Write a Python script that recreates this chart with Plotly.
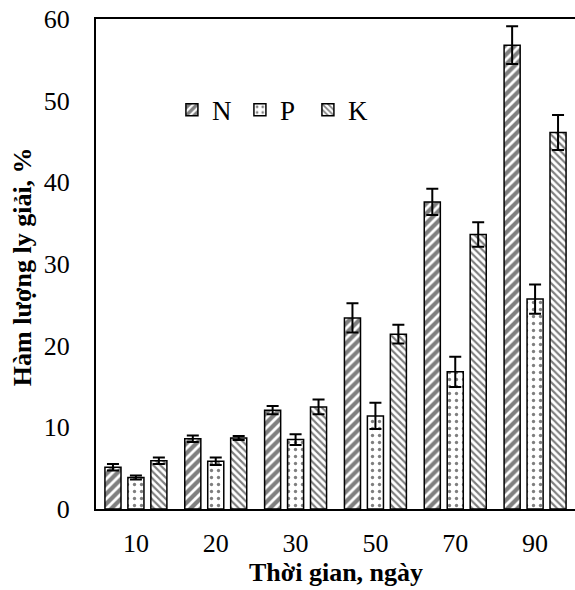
import plotly.graph_objects as go

categories = ["10", "20", "30", "50", "70", "90"]
n_values = [5.1, 8.6, 12.1, 23.4, 37.6, 56.8]
n_errors = [0.4, 0.4, 0.5, 1.8, 1.6, 2.3]
p_values = [3.85, 5.85, 8.5, 11.4, 16.8, 25.7]
p_errors = [0.25, 0.45, 0.65, 1.6, 1.85, 1.8]
k_values = [5.9, 8.7, 12.5, 21.4, 33.6, 46.1]
k_errors = [0.4, 0.25, 0.9, 1.15, 1.5, 2.15]
y_ticks = [0, 10, 20, 30, 40, 50, 60]
x_title = "Thời gian, ngày"
y_title = "Hàm lượng ly giải, %"

FONT = "Liberation Serif"

def bar(name, values, errors, shape, size, solidity):
    return go.Bar(
        name=name,
        x=categories,
        y=values,
        marker=dict(
            color="white",
            line=dict(color="black", width=1.5),
            pattern=dict(shape=shape, fgcolor="black", bgcolor="white",
                         size=size, solidity=solidity, fillmode="overlay"),
        ),
        error_y=dict(type="data", array=errors, visible=True,
                     color="black", thickness=2, width=6),
    )

fig = go.Figure()
fig.add_trace(bar("N", n_values, n_errors, "/", 7, 0.6))
fig.add_trace(bar("P", p_values, p_errors, ".", 7, 0.18))
fig.add_trace(bar("K", k_values, k_errors, "\\", 5, 0.42))

fig.update_layout(
    width=575,
    height=590,
    margin=dict(l=96, r=0, t=19, b=81, autoexpand=False),
    paper_bgcolor="white",
    plot_bgcolor="white",
    barmode="group",
    bargap=0.1375,
    bargroupgap=0.3,
    font=dict(family=FONT, size=26, color="black"),
    showlegend=True,
    legend=dict(
        orientation="h",
        x=0.1585, y=0.814, xanchor="left", yanchor="middle",
        font=dict(family=FONT, size=27, color="black"),
        bgcolor="rgba(0,0,0,0)",
        itemwidth=30,
        entrywidth=23,
        entrywidthmode="pixels",
        traceorder="normal",
    ),
    xaxis=dict(
        type="category",
        range=[-0.5, 5.5],
        automargin=False,
        showline=True, linecolor="black", linewidth=2, mirror=True,
        ticks="", showgrid=False, zeroline=False,
        ticklabelstandoff=10,
        tickfont=dict(family=FONT, size=26, color="black"),
    ),
    yaxis=dict(
        range=[0, 60],
        tickvals=y_ticks,
        automargin=False,
        showline=True, linecolor="black", linewidth=2, mirror=False,
        ticks="", showgrid=False, zeroline=False,
        ticklabelstandoff=19,
        tickfont=dict(family=FONT, size=26, color="black"),
    ),
    annotations=[
        dict(text="<b>" + x_title + "</b>", xref="paper", yref="paper",
             x=0.5, y=-0.1286, xanchor="center", yanchor="middle",
             showarrow=False, font=dict(family=FONT, size=26, color="black")),
        dict(text="<b>" + y_title + "</b>", xref="paper", yref="paper",
             x=-0.152, y=0.494, xanchor="center", yanchor="middle",
             textangle=-90, showarrow=False,
             font=dict(family=FONT, size=26, color="black")),
    ],
)

fig.write_html(
    "out.html",
    config={"displayModeBar": False},
    post_script="document.body.style.margin='0';document.body.style.padding='0';",
)
